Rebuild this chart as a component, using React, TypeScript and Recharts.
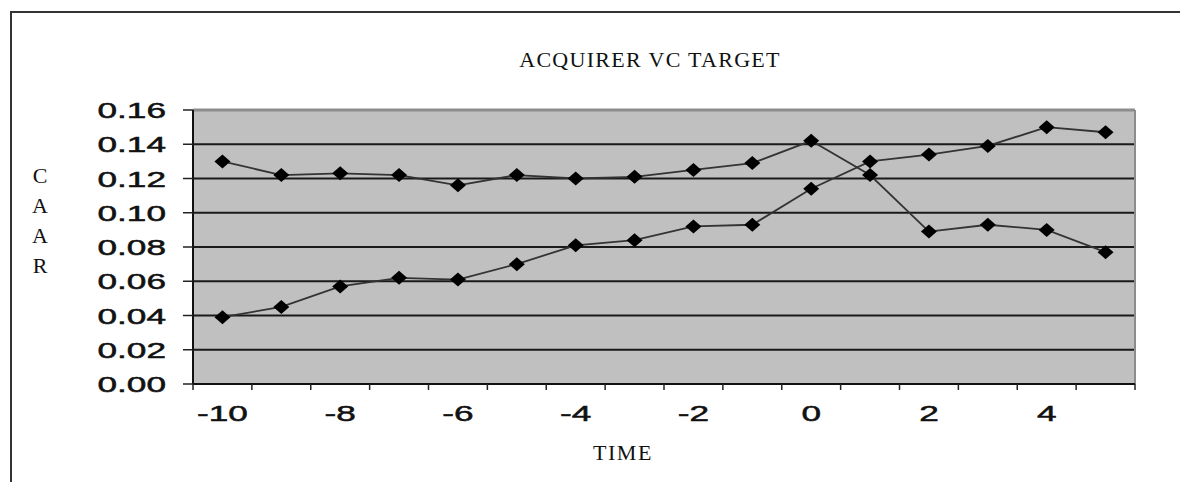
import { CartesianGrid, Line, LineChart, ReferenceLine, XAxis, YAxis } from "recharts";

// CAAR by event time
const times = [-10, -9, -8, -7, -6, -5, -4, -3, -2, -1, 0, 1, 2, 3, 4, 5];
const upperSeries = [0.130, 0.122, 0.123, 0.122, 0.116, 0.122, 0.120, 0.121, 0.125, 0.129, 0.142, 0.122, 0.089, 0.093, 0.090, 0.077];
const lowerSeries = [0.039, 0.045, 0.057, 0.062, 0.061, 0.070, 0.081, 0.084, 0.092, 0.093, 0.114, 0.130, 0.134, 0.139, 0.150, 0.147];
const yTicks = [0, 0.02, 0.04, 0.06, 0.08, 0.1, 0.12, 0.14, 0.16];
const xLabels = [-10, -8, -6, -4, -2, 0, 2, 4];

const data = times.map((t, i) => ({ t, upper: upperSeries[i], lower: lowerSeries[i] }));

// tick marks sit between the categories, labels on every second one
const boundaries = [...times.map((t) => t - 0.5), times[times.length - 1] + 0.5];
const xTicks = [...boundaries, ...xLabels].sort((a, b) => a - b);

const serif = "'Liberation Serif', 'Times New Roman', serif";
const sans = "'Liberation Sans', Arial, sans-serif";

function Diamond(props: any) {
  const { cx, cy } = props;
  if (cx == null || cy == null) return null;
  return <path d={`M${cx},${cy - 7} L${cx + 8},${cy} L${cx},${cy + 7} L${cx - 8},${cy} Z`} fill="#000" />;
}

function XTick(props: any) {
  const { x, y, payload } = props;
  const v = payload.value;
  if (!Number.isInteger(v)) {
    return <line x1={x} x2={x} y1={y - 6} y2={y} stroke="#222" strokeWidth={1.5} />;
  }
  return (
    <text
      transform={`translate(${x},${y + 31}) scale(1.6,1)`}
      textAnchor="middle"
      fontFamily={sans}
      fontSize={22}
      fill="#111"
      stroke="#111"
      strokeWidth={0.5}
    >
      {v}
    </text>
  );
}

function YTick(props: any) {
  const { x, y, payload } = props;
  return (
    <text
      transform={`translate(${x},${y + 8}) scale(1.6,1)`}
      textAnchor="end"
      fontFamily={sans}
      fontSize={22}
      fill="#111"
      stroke="#111"
      strokeWidth={0.5}
    >
      {payload.value.toFixed(2)}
    </text>
  );
}

export default function App() {
  return (
    <div style={{ position: "absolute", left: 0, top: 0, width: 1180, height: 482, background: "#fff", overflow: "hidden" }}>
      {/* outer frame, only top and left edges show */}
      <div style={{ position: "absolute", left: 10, top: 11, width: 1200, height: 500, borderTop: "2px solid #333", borderLeft: "2px solid #333" }} />
      <LineChart width={1180} height={482} data={data} margin={{ top: 110, right: 45, bottom: 38, left: 93 }}>
        <CartesianGrid vertical={false} stroke="#1a1a1a" strokeWidth={2} fill="#c0c0c0" fillOpacity={1} />
        <XAxis
          dataKey="t"
          type="number"
          domain={[-10.5, 5.5]}
          ticks={xTicks}
          interval={0}
          height={60}
          tickSize={6}
          tickMargin={0}
          tickLine={false}
          tick={<XTick />}
          axisLine={{ stroke: "#111", strokeWidth: 2 }}
        />
        <YAxis
          domain={[0, 0.16]}
          ticks={yTicks}
          interval={0}
          width={100}
          tickSize={10}
          tickMargin={17}
          tick={<YTick />}
          tickLine={{ stroke: "#222", strokeWidth: 1.5 }}
          axisLine={{ stroke: "#111", strokeWidth: 2 }}
        />
        <ReferenceLine y={0.16} stroke="#8c8c8c" strokeWidth={3} />
        <ReferenceLine x={5.5} stroke="#8c8c8c" strokeWidth={2} />
        <Line type="linear" dataKey="upper" stroke="#333" strokeWidth={1.8} dot={<Diamond />} activeDot={false} isAnimationActive={false} />
        <Line type="linear" dataKey="lower" stroke="#333" strokeWidth={1.8} dot={<Diamond />} activeDot={false} isAnimationActive={false} />
      </LineChart>
      <svg width={1180} height={482} style={{ position: "absolute", left: 0, top: 0, pointerEvents: "none" }}>
        <text x={650} y={67} textAnchor="middle" fontFamily={serif} fontSize={22} letterSpacing={1.3} fill="#111">
          ACQUIRER VC TARGET
        </text>
        {["C", "A", "A", "R"].map((ch, i) => (
          <text key={i} x={40} y={183 + i * 30} textAnchor="middle" fontFamily={serif} fontSize={22} fill="#111">
            {ch}
          </text>
        ))}
        <text x={623} y={460} textAnchor="middle" fontFamily={serif} fontSize={22} letterSpacing={1.5} fill="#111">
          TIME
        </text>
      </svg>
    </div>
  );
}
